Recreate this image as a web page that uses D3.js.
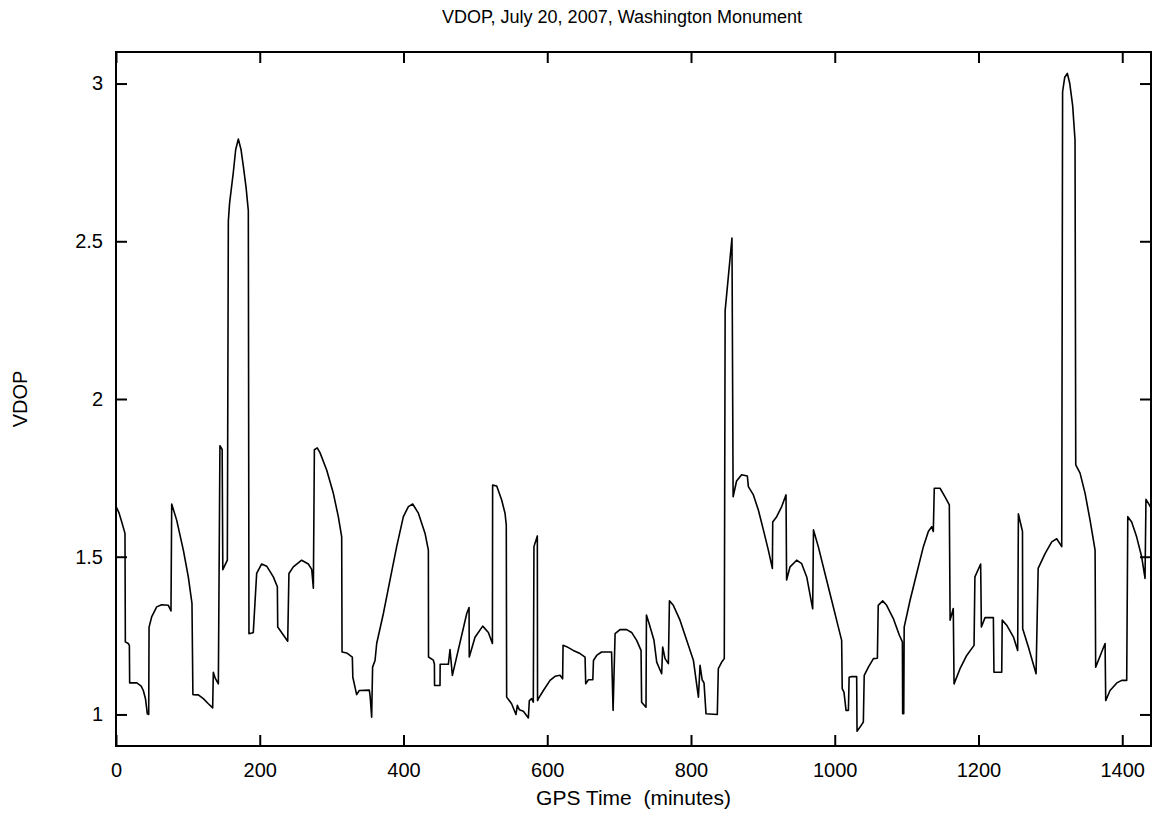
<!DOCTYPE html>
<html>
<head>
<meta charset="utf-8">
<script src="https://cdn.jsdelivr.net/npm/d3@7"></script>
<style>
  html, body { margin: 0; padding: 0; background: #fff; }
  svg { display: block; }
  text { font-family: "Liberation Sans", Arial, Helvetica, sans-serif; fill: #000; white-space: pre; }
</style>
</head>
<body>
<svg id="chart" width="1154" height="817"></svg>
<script>
// ---- data ----
const time = [
  0, 4, 8, 12.5, 13, 17, 18.6, 19, 29, 35, 38, 41, 43.6, 45.5, 46, 49.6, 56.6, 63.5, 72.8, 76.5,
  77.5, 84.4, 93.7, 100.6, 105.7, 107, 114.6, 121.5, 128.5, 134.5, 135.4, 138, 142.4, 144.6, 147.7, 148.6,
  154.9, 156.3, 158, 163.2, 166.5, 170.2, 174, 177.1, 181, 184.1, 185, 189, 191, 195.7, 202.7, 209.7,
  218.9, 224.5, 225, 238.9, 240.6, 246.7, 258.3, 267.6, 272.3, 274.6, 276, 280, 283.8, 293.1, 302.4,
  309.3, 314, 314.5, 320.9, 328.8, 329.5, 334.8, 338.5, 352.4, 353.5, 355.7, 357, 360.4, 362.7, 372,
  381.2, 390.5, 399.8, 406.8, 412.8, 420.7, 430, 434.6, 434.8, 441.5, 443, 443.2, 450.8, 451, 462.4,
  464.7, 468, 488, 491.2, 491.5, 499.5, 510.2, 518.1, 523.7, 524, 529.7, 536.6, 541.3, 543, 543.5,
  550.4, 556.5, 558.4, 561.2, 566.8, 573.7, 575.1, 578.3, 580.6, 581.5, 586.2, 586.5, 587.7, 594.6,
  603.9, 610.8, 617.8, 621.4, 622, 627, 636.2, 645.6, 652.6, 653.5, 657.3, 663.4, 664.3, 668.7, 675.6,
  689.5, 691.6, 694.4, 701.2, 710.5, 717.4, 724.4, 730.5, 731.3, 737.4, 738, 741.9, 748.5, 752.3,
  759.2, 760.6, 763.9, 768.5, 770, 775.4, 784.7, 794, 803.3, 810.3, 812.6, 815.5, 818.1, 820.9, 836.6,
  838, 842.7, 846.3, 847.5, 857, 858.6, 863.4, 870.4, 878.4, 879.8, 886.8, 893.7, 900.7, 907.6, 913.2,
  913.7, 919.2, 926.2, 932.2, 933, 937.8, 947, 954, 961, 969.3, 970.4, 977.1, 986.4, 995.7, 1005,
  1009.6, 1010.4, 1012.9, 1015.7, 1019, 1020, 1023.5, 1030.5, 1031, 1035.2, 1039.8, 1041, 1046.8,
  1053.8, 1059.3, 1060.5, 1066.7, 1072.2, 1081.5, 1089.9, 1094.1, 1094.5, 1096, 1096.6, 1104.8, 1114,
  1123.3, 1130.2, 1134.9, 1137.1, 1138.5, 1146.5, 1153.4, 1159.4, 1160.5, 1164.9, 1166, 1174.3, 1183.6,
  1193.8, 1195, 1203, 1204, 1209.1, 1220.7, 1221.5, 1232.3, 1233, 1239.2, 1248.5, 1254.5, 1255.5,
  1261.2, 1261.5, 1269.4, 1280.1, 1283, 1292.6, 1301.9, 1308.8, 1315.8, 1317, 1320, 1323.6, 1327, 1331,
  1334.3, 1335.3, 1341.3, 1348.3, 1355.2, 1362.2, 1363, 1365.8, 1371.4, 1376.1, 1377, 1383, 1392.4,
  1399.3, 1406.2, 1407.7, 1413.1, 1420, 1427, 1431.7, 1433, 1436.4, 1440
];
const vdop = [
  1.66, 1.64, 1.61, 1.574, 1.23, 1.225, 1.219, 1.10, 1.10, 1.09, 1.076, 1.05, 1.002, 1.0, 1.277, 1.309, 1.341, 1.348, 1.346, 1.328,
  1.667, 1.616, 1.521, 1.436, 1.352, 1.063, 1.062, 1.05, 1.034, 1.021, 1.134, 1.115, 1.097, 1.852, 1.84, 1.459,
  1.489, 2.564, 2.62, 2.718, 2.79, 2.824, 2.79, 2.739, 2.67, 2.597, 1.256, 1.258, 1.26, 1.447, 1.477, 1.47,
  1.436, 1.405, 1.277, 1.232, 1.447, 1.468, 1.489, 1.477, 1.46, 1.40, 1.839, 1.845, 1.830, 1.775, 1.701,
  1.627, 1.563, 1.198, 1.195, 1.182, 1.118, 1.063, 1.076, 1.077, 1.06, 0.991, 1.150, 1.171, 1.225, 1.32,
  1.426, 1.532, 1.627, 1.659, 1.667, 1.638, 1.574, 1.521, 1.182, 1.172, 1.16, 1.092, 1.092, 1.159, 1.159,
  1.206, 1.124, 1.32, 1.339, 1.182, 1.245, 1.28, 1.26, 1.225, 1.727, 1.724, 1.68, 1.637, 1.6, 1.055,
  1.034, 1.0, 1.029, 1.015, 1.01, 0.989, 1.044, 1.05, 1.039, 1.532, 1.566, 1.044, 1.05, 1.076,
  1.108, 1.121, 1.124, 1.113, 1.219, 1.215, 1.203, 1.193, 1.182, 1.097, 1.11, 1.11, 1.171, 1.187, 1.198,
  1.198, 1.013, 1.256, 1.269, 1.269, 1.26, 1.235, 1.203, 1.039, 1.023, 1.315, 1.287, 1.235, 1.166,
  1.129, 1.214, 1.177, 1.161, 1.36, 1.346, 1.299, 1.235, 1.172, 1.055, 1.156, 1.11, 1.10, 1.002, 1.0,
  1.145, 1.166, 1.177, 2.28, 2.51, 1.69, 1.74, 1.76, 1.756, 1.722, 1.696, 1.648, 1.585, 1.521, 1.463,
  1.61, 1.627, 1.659, 1.696, 1.426, 1.468, 1.489, 1.478, 1.436, 1.335, 1.585, 1.532, 1.447, 1.362, 1.277,
  1.235, 1.082, 1.07, 1.013, 1.013, 1.118, 1.12, 1.12, 0.947, 0.96, 0.976, 1.124, 1.15,
  1.177, 1.178, 1.346, 1.36, 1.346, 1.304, 1.251, 1.23, 1.002, 1.002, 1.277, 1.362, 1.447,
  1.532, 1.58, 1.595, 1.58, 1.717, 1.717, 1.69, 1.664, 1.299, 1.336, 1.097, 1.145, 1.187,
  1.219, 1.436, 1.477, 1.277, 1.307, 1.307, 1.134, 1.134, 1.299, 1.283, 1.246, 1.203, 1.636,
  1.58, 1.272, 1.214, 1.129, 1.463, 1.51, 1.547, 1.557, 1.532, 2.974, 3.02, 3.032, 3.0, 2.93,
  2.821, 1.791, 1.765, 1.701, 1.616, 1.521, 1.15, 1.166, 1.198, 1.225, 1.044, 1.076, 1.10,
  1.108, 1.108, 1.627, 1.61, 1.563, 1.5, 1.431, 1.682, 1.669, 1.655
];
const xTicks = [0, 200, 400, 600, 800, 1000, 1200, 1400];
const yTicks = [1, 1.5, 2, 2.5, 3];
const yTickLabels = ["1", "1.5", "2", "2.5", "3"];
const titleText = "VDOP, July 20, 2007, Washington Monument";
const xLabel = "GPS Time  (minutes)";
const yLabel = "VDOP";

// ---- layout ----
const W = 1154, H = 817;
const m = { left: 116, right: 3, top: 52, bottom: 71 };
const iw = W - m.left - m.right, ih = H - m.top - m.bottom;
const FS = 20;

const svg = d3.select("#chart");
const g = svg.append("g").attr("transform", `translate(${m.left},${m.top})`);

const x = d3.scaleLinear().domain([0, 1440]).range([0, iw]);
const y = d3.scaleLinear().domain([0.9, 3.1]).range([ih, 0]);

const TICK = 11;
function styleAxis(sel, showText) {
  sel.select(".domain").remove();
  sel.selectAll(".tick line").attr("stroke", "#000").attr("stroke-width", 2);
  sel.selectAll(".tick text").attr("font-size", FS).attr("font-family", '"Liberation Sans", Arial, sans-serif').attr("fill", "#000");
  if (!showText) sel.selectAll(".tick text").remove();
}

g.append("g").attr("transform", `translate(0,${ih})`)
  .call(d3.axisBottom(x).tickValues(xTicks).tickFormat(d3.format("d")).tickSizeInner(-TICK).tickSizeOuter(0).tickPadding(17))
  .call(s => styleAxis(s, true));
g.append("g")
  .call(d3.axisTop(x).tickValues(xTicks).tickSizeInner(-TICK).tickSizeOuter(0))
  .call(s => styleAxis(s, false));
g.append("g")
  .call(d3.axisLeft(y).tickValues(yTicks).tickFormat((d, i) => yTickLabels[i]).tickSizeInner(-TICK).tickSizeOuter(0).tickPadding(13))
  .call(s => styleAxis(s, true));
g.append("g").attr("transform", `translate(${iw},0)`)
  .call(d3.axisRight(y).tickValues(yTicks).tickSizeInner(-TICK).tickSizeOuter(0))
  .call(s => styleAxis(s, false));

// frame
g.append("rect").attr("x", 0).attr("y", 0).attr("width", iw).attr("height", ih)
  .attr("fill", "none").attr("stroke", "#000").attr("stroke-width", 2);

// data line
const pts = time.map((t, i) => [t, vdop[i]]);
const line = d3.line().x(d => x(d[0])).y(d => y(d[1]));
g.append("path").datum(pts).attr("d", line)
  .attr("fill", "none").attr("stroke", "#000").attr("stroke-width", 1.6).attr("stroke-linejoin", "round");

// texts
svg.append("text").attr("x", 622).attr("y", 23).attr("text-anchor", "middle")
  .attr("font-size", 18).text(titleText);
svg.append("text").attr("x", m.left + iw / 2).attr("y", 805).attr("text-anchor", "middle")
  .attr("font-size", 21).attr("xml:space", "preserve").text(xLabel);
svg.append("text").attr("transform", `translate(27,${m.top + ih / 2}) rotate(-90)`).attr("text-anchor", "middle")
  .attr("font-size", FS).text(yLabel);
</script>
</body>
</html>
